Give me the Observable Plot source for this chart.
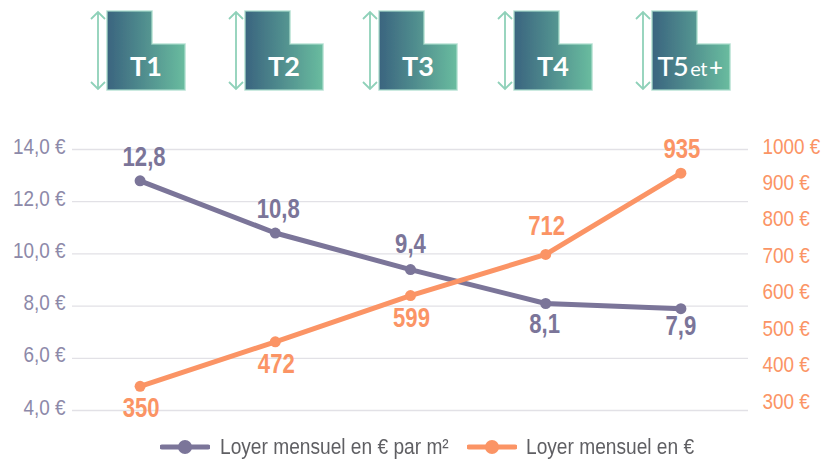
<!DOCTYPE html>
<html><head><meta charset="utf-8">
<script src="https://cdn.jsdelivr.net/npm/d3@7"></script>
<script src="https://cdn.jsdelivr.net/npm/@observablehq/plot@0.6"></script>
<style>
html,body{margin:0;padding:0;background:#fff;width:837px;height:460px;overflow:hidden}
#chart svg{display:block}
.lg{position:relative;height:32px;font:22px "Liberation Sans",sans-serif;color:#5f5f63}
.lg span{position:absolute;top:6px;white-space:nowrap;transform:scaleX(.87);transform-origin:0 50%}
.lg svg{position:absolute;top:0}
</style></head><body>
<div id="chart"></div>
<div class="lg" id="legend"></div>
<script>
const categories = ["T1","T2","T3","T4","T5"];
const iconLabels = ["T1","T2","T3","T4","T5"];
const rentPerM2 = [12.8,10.8,9.4,8.1,7.9];
const rent = [350,472,599,712,935];
const leftTicks = [4,6,8,10,12,14];
const rightTicks = [300,400,500,600,700,800,900,1000];
const seriesNames = ["Loyer mensuel en € par m²","Loyer mensuel en €"];

const PURPLE="#7b7599", PURPLE_TICK="#8d89a9", ORANGE="#fb9465", GRID="#e2e1e6";
const FONT='"Liberation Sans",sans-serif';
const toLeft = d3.scaleLinear([300,1000],[4.23,14]);
const fr1 = d => d3.format(".1f")(d).replace(".",",");

const a = categories.map((c,i)=>({c,v:rentPerM2[i],t:fr1(rentPerM2[i]),dy:[-23,-24,-25,21,18][i],dx:[4,3,0,-1,0][i]}));
const b = categories.map((c,i)=>({c,v:toLeft(rent[i]),t:String(rent[i]),dy:[22,23,23,-28,-24][i],dx:[1,1,1,1,1][i]}));

const iconOffset=[-32.6,-29.8,-31,-31.2,-28.4];
function icons(index,scales,values,dim,ctx){
  const svgNS="http://www.w3.org/2000/svg";
  const g=document.createElementNS(svgNS,"g");
  g.setAttribute("class","icons");
  const bw=scales.x.bandwidth?scales.x.bandwidth():0;
  let html=`<defs><linearGradient id="lgrad" x1="0" x2="1" y1="0" y2="0"><stop offset="0" stop-color="#3a647f"/><stop offset="1" stop-color="#69bc9f"/></linearGradient>
  <filter id="soft" x="-10%" y="-10%" width="120%" height="120%"><feGaussianBlur stdDeviation="0.45"/></filter></defs>`;
  categories.forEach((c,i)=>{
    const x=scales.x(c)+bw/2+iconOffset[i];
    html+=`<g transform="translate(${x},11)" filter="url(#soft)">
      <path d="M0 0H45V33H78V79H0Z" fill="url(#lgrad)" stroke="#a9dccb" stroke-width="1.6" stroke-opacity=".8"/>
      <path d="M-9 1V78M-16 8L-9 1L-2 8M-16 71L-9 78L-2 71" fill="none" stroke="#8fd1b9" stroke-width="1.8"/>
    </g>`;
    const tx = x+39;
    if(i<4) html+=`<text x="${tx}" y="76" text-anchor="middle" font-family="Lato" font-weight="700" font-size="27" fill="#fff">${iconLabels[i]}</text>`;
    else html+=`<text x="${tx-1}" y="76" text-anchor="middle" font-family="Lato" font-weight="500" font-size="27" fill="#fff" style="letter-spacing:-.5px">${iconLabels[i]}<tspan font-size="20" font-weight="400" dx="2">et</tspan><tspan font-size="24" dx="2">+</tspan></text>`;
  });
  g.innerHTML=html;
  return g;
}

const plot = Plot.plot({
  width:837,height:428,
  marginLeft:72,marginRight:89,marginTop:149,marginBottom:18,
  style:{background:"#fff",fontFamily:FONT},
  x:{domain:categories,type:"band",padding:0,round:false,axis:null},
  y:{domain:[4,14],axis:null},
  marks:[
    icons,
    Plot.ruleY(leftTicks,{stroke:GRID,strokeWidth:1.3}),
    Plot.axisY({anchor:"left",ticks:leftTicks,tickSize:0,tickPadding:7,tickFormat:d=>fr1(d)+" €",fontSize:22,color:PURPLE_TICK,dy:-3,label:null}),
    Plot.axisY({anchor:"right",ticks:rightTicks.map(toLeft),tickSize:0,tickPadding:14,tickFormat:d=>Math.round(toLeft.invert(d))+" €",fontSize:22,color:ORANGE,dy:-3,label:null}),
    Plot.line(a,{x:"c",y:"v",stroke:PURPLE,strokeWidth:5}),
    Plot.dot(a,{x:"c",y:"v",fill:PURPLE,r:5.5}),
    Plot.line(b,{x:"c",y:"v",stroke:ORANGE,strokeWidth:5}),
    Plot.dot(b,{x:"c",y:"v",fill:ORANGE,r:5.5}),
    ...a.map(d=>Plot.text([d],{x:"c",y:"v",text:"t",dy:d.dy,dx:d.dx,fill:PURPLE,fontSize:27,fontWeight:700})),
    ...b.map(d=>Plot.text([d],{x:"c",y:"v",text:"t",dy:d.dy,dx:d.dx,fill:ORANGE,fontSize:27,fontWeight:700}))
  ]
});
// the reference uses a condensed face: narrow the text horizontally, each around its own anchor
plot.querySelectorAll("text").forEach(t=>{
  if(t.closest(".icons")) return;
  const isValue=t.parentNode.getAttribute("aria-label")==="text";
  t.setAttribute("transform",(t.getAttribute("transform")||"")+` scale(${isValue?.82:.86},1)`);
});
document.getElementById("chart").append(plot);

const lg=document.getElementById("legend");
lg.innerHTML=[[160,PURPLE,220,seriesNames[0]],[467,ORANGE,526,seriesNames[1]]].map(([x,col,tx,name])=>
 `<svg style="left:${x}px" width="50" height="32"><line x1="2" x2="48" y1="19" y2="19" stroke="${col}" stroke-width="5" stroke-linecap="round"/><circle cx="25" cy="19" r="7" fill="${col}"/></svg><span style="left:${tx}px">${name}</span>`).join("");
</script>
</body></html>
